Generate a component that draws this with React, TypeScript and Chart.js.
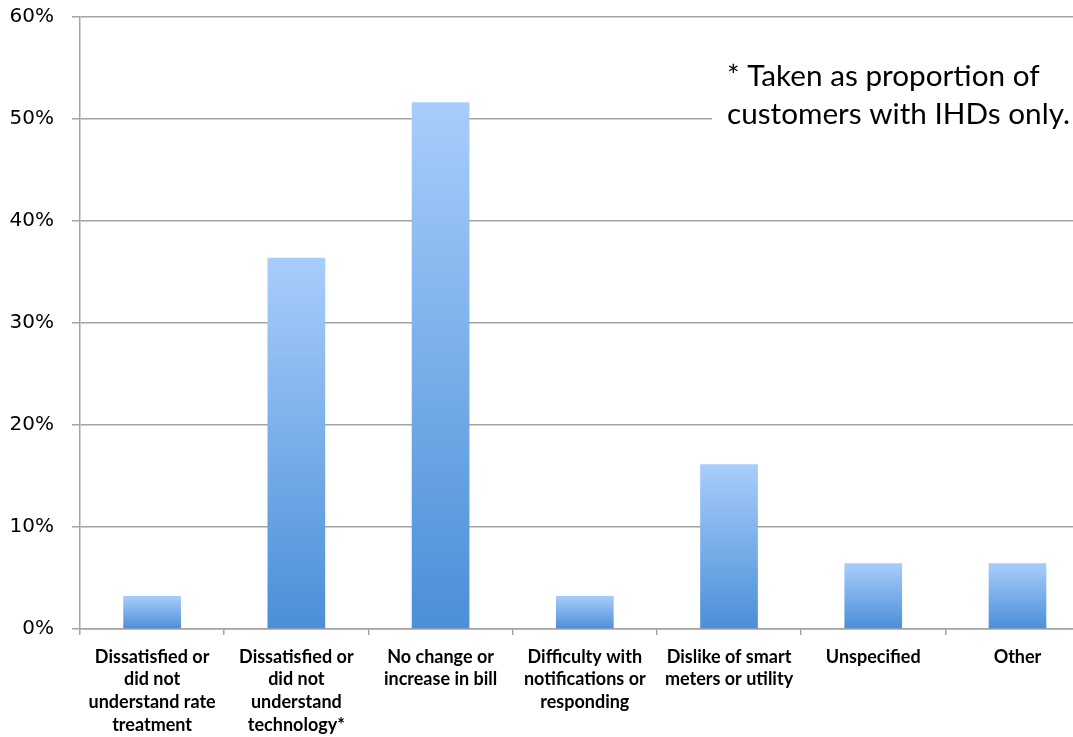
import React, { useEffect, useRef } from "react";
import { Chart, registerables } from "chart.js";

Chart.register(...registerables);

const categories: string[][] = [
  ["Dissatisfied or", "did not", "understand rate", "treatment"],
  ["Dissatisfied or", "did not", "understand", "technology*"],
  ["No change or", "increase in bill"],
  ["Difficulty with", "notifications or", "responding"],
  ["Dislike of smart", "meters or utility"],
  ["Unspecified"],
  ["Other"],
];

const percentValues: number[] = [3.23, 36.36, 51.61, 3.23, 16.13, 6.45, 6.45];

const yTickValues: number[] = [0, 10, 20, 30, 40, 50, 60];

const noteLines: string[] = ["* Taken as proportion of", "customers with IHDs only."];

const GRID = "#a3a3a3";

const notePlugin = {
  id: "note",
  beforeDatasetsDraw(chart: any) {
    const c = chart.ctx as CanvasRenderingContext2D;
    c.save();
    c.fillStyle = "#ffffff";
    c.fillRect(712, 50, 400, 90);
    c.fillStyle = "#000000";
    c.textAlign = "left";
    c.textBaseline = "alphabetic";
    let size = 30;
    c.font = `${size}px Lato`;
    const w = c.measureText(noteLines[1]).width;
    size = size * (343 / w);
    c.font = `${size}px Lato`;
    c.fillText(noteLines[0], 727, 86);
    c.fillText(noteLines[1], 727, 124);
    c.restore();
  },
};

export default function App() {
  const ref = useRef<HTMLCanvasElement>(null);

  useEffect(() => {
    const canvas = ref.current!;
    const chart = new Chart(canvas, {
      type: "bar",
      data: {
        labels: categories,
        datasets: [
          {
            data: percentValues,
            backgroundColor: (ctx: any) => {
              const ch = ctx.chart;
              const y = ch.scales && ch.scales.y;
              if (ctx.type !== "data" || !y) return "#7aaee9";
              const top = y.getPixelForValue(percentValues[ctx.dataIndex]);
              const base = y.getPixelForValue(0);
              if (!isFinite(top) || !isFinite(base) || top === base) return "#7aaee9";
              const g = ch.ctx.createLinearGradient(0, top, 0, base);
              g.addColorStop(0, "#a8cdfb");
              g.addColorStop(1, "#4a8fd8");
              return g;
            },
            borderWidth: 0,
            barPercentage: 0.4,
            categoryPercentage: 1,
          },
        ],
      },
      options: {
        responsive: false,
        animation: false,
        devicePixelRatio: 1,
        layout: { padding: { top: 16.5, right: 10.4, bottom: 0, left: 0 } },
        plugins: {
          legend: { display: false },
          tooltip: { enabled: false },
        },
        scales: {
          x: {
            grid: {
              display: true,
              offset: true,
              drawOnChartArea: false,
              drawTicks: true,
              tickLength: 6,
              color: GRID,
              lineWidth: 1.5,
            },
            border: { display: true, color: GRID, width: 1.5 },
            ticks: {
              autoSkip: false,
              maxRotation: 0,
              minRotation: 0,
              padding: 10.5,
              color: "#000000",
              font: { family: "Lato", size: 18, weight: "bold", lineHeight: 1.26 },
            },
            afterFit: (s: any) => {
              s.height = 108;
              s.paddingLeft = 0;
              s.paddingRight = 0;
            },
          },
          y: {
            min: 0,
            max: 60,
            afterBuildTicks: (s: any) => {
              s.ticks = yTickValues.map((v) => ({ value: v }));
            },
            grid: {
              color: GRID,
              lineWidth: 1.5,
              drawTicks: true,
              tickLength: 8,
            },
            border: { display: true, color: GRID, width: 1.5 },
            ticks: {
              padding: 18,
              color: "#000000",
              font: { family: "DejaVu Sans", size: 20 },
              callback: (v: any) => `${v}%`,
            },
            afterFit: (s: any) => {
              s.width = 80;
              s.paddingTop = 0;
              s.paddingBottom = 0;
            },
          },
        },
      },
      plugins: [notePlugin],
    } as any);
    return () => chart.destroy();
  }, []);

  return (
    <div
      style={{
        position: "absolute",
        left: 0,
        top: 0,
        width: 1073,
        height: 737,
        overflow: "hidden",
        background: "#ffffff",
      }}
    >
      <canvas ref={ref} width={1100} height={737} style={{ display: "block", width: 1100, height: 737 }} />
    </div>
  );
}
